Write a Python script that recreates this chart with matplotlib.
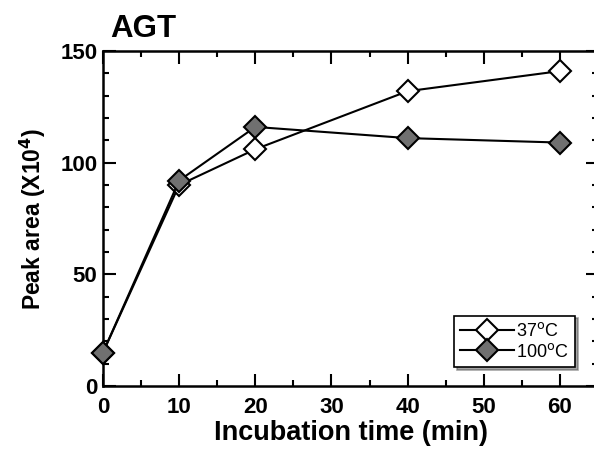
import matplotlib
matplotlib.use("Agg")
import matplotlib.pyplot as plt
from matplotlib.ticker import MultipleLocator

plt.rcParams['font.family'] = ['Liberation Sans', 'DejaVu Sans']

time_min = [0, 10, 20, 40, 60]
peak_37 = [15, 90, 106, 132, 141]
peak_100 = [15, 92, 116, 111, 109]
series_labels = ['37$^{\\rm o}$C', '100$^{\\rm o}$C']
x_ticks = [0, 10, 20, 30, 40, 50, 60]
y_ticks = [0, 50, 100, 150]

fig = plt.figure(figsize=(5.94, 4.61), dpi=100)
ax = fig.add_axes([103/594, 1-386/461, 495/594, 335/461])

ax.plot(time_min, peak_37, color='black', lw=1.5, marker='D', ms=11.5,
        mfc='white', mec='black', mew=1.5, label=series_labels[0], zorder=3,
        clip_on=False)
ax.plot(time_min, peak_100, color='black', lw=1.5, marker='D', ms=11.5,
        mfc='#707070', mec='black', mew=1.5, label=series_labels[1], zorder=4,
        clip_on=False)

ax.set_xlim(0, 65)
ax.set_ylim(0, 150)
ax.set_xticks(x_ticks)
ax.set_yticks(y_ticks)
ax.xaxis.set_minor_locator(MultipleLocator(5))
ax.yaxis.set_minor_locator(MultipleLocator(10))
ax.tick_params(which='both', direction='in', top=True, right=True, width=1.5)
ax.tick_params(which='major', length=9, labelsize=16, pad=8)
ax.tick_params(which='minor', length=4.5)
ax.tick_params(axis='y', pad=4)
for lbl in ax.get_xticklabels() + ax.get_yticklabels():
    lbl.set_fontweight('bold')
for s in ax.spines.values():
    s.set_linewidth(1.8)

ax.set_xlabel('Incubation time (min)', fontsize=19.5, fontweight='bold')
ax.set_ylabel('Peak area (X10$^{\\mathbf{4}}$)', fontsize=16.5, fontweight='bold', labelpad=9)
ax.xaxis.set_label_coords(0.5, -0.10)
fig.text(110/594, 1-37/461, 'AGT', fontsize=22.5, fontweight='bold', ha='left', va='baseline')

leg = ax.legend(loc='lower right', bbox_to_anchor=(575/594, 1-367/461),
                bbox_transform=fig.transFigure, fontsize=13, frameon=True,
                fancybox=False, shadow=True, edgecolor='black',
                handlelength=3.0, handletextpad=0.1, borderpad=0.35,
                labelspacing=0.15, borderaxespad=0)
leg.get_frame().set_linewidth(1.2)

fig.savefig('out.png', dpi=100)
